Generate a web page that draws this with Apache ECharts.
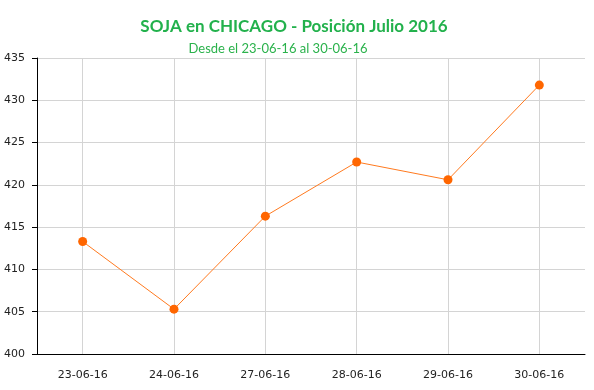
<!DOCTYPE html>
<html><head><meta charset="utf-8">
<script src="https://cdn.jsdelivr.net/npm/echarts@6/dist/echarts.min.js"></script>
<style>html,body{margin:0;padding:0;background:#fff}#c{width:594px;height:390px}</style>
</head><body><div id="c"></div>
<script>
var categories = ['23-06-16','24-06-16','27-06-16','28-06-16','29-06-16','30-06-16'];
var prices = [413.3, 405.3, 416.3, 422.7, 420.6, 431.8];
var yTicks = [400, 405, 410, 415, 420, 425, 430, 435];

var chart = echarts.init(document.getElementById('c'));
chart.setOption({
  backgroundColor: '#fff',
  animation: false,
  title: [
    {text: 'SOJA en CHICAGO - Posición Julio 2016', left: 289, top: 13, textAlign: 'center',
     textStyle: {color: '#22b14c', fontFamily: 'Lato', fontWeight: 'bold', fontSize: 17}},
    {text: 'Desde el 23-06-16 al 30-06-16', left: 273, top: 37, textAlign: 'center',
     textStyle: {color: '#2bb24c', fontFamily: 'Lato', fontWeight: 'normal', fontSize: 13}}
  ],
  grid: {left: 37, right: 9, top: 58, bottom: 36, containLabel: false},
  xAxis: {
    type: 'category', data: categories, boundaryGap: true,
    axisLine: {lineStyle: {color: '#000', width: 1}},
    axisTick: {alignWithLabel: true, length: 5, lineStyle: {color: '#000'}},
    axisLabel: {color: '#222', fontFamily: 'DejaVu Sans', fontSize: 11, margin: 16},
    splitLine: {show: true, alignWithLabel: true, lineStyle: {color: '#d4d4d4', width: 1}}
  },
  yAxis: {
    type: 'value', min: yTicks[0], max: yTicks[yTicks.length-1], interval: 5,
    axisLine: {show: true, lineStyle: {color: '#000', width: 1}},
    axisTick: {show: true, length: 5, lineStyle: {color: '#000'}},
    axisLabel: {color: '#222', fontFamily: 'DejaVu Sans', fontSize: 11, margin: 12},
    splitLine: {show: true, lineStyle: {color: '#d4d4d4', width: 1}}
  },
  series: [{
    type: 'line', data: prices, symbol: 'circle', symbolSize: 9,
    itemStyle: {color: '#ff6600'},
    lineStyle: {color: '#ff7a1f', width: 1}
  }]
});
</script></body></html>
